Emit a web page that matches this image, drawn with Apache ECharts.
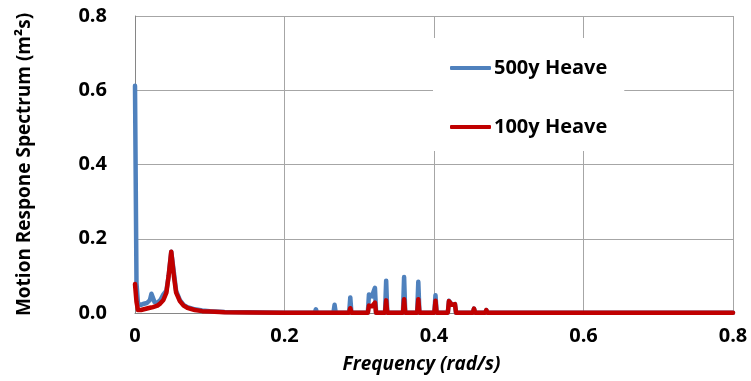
<!DOCTYPE html>
<html>
<head>
<meta charset="utf-8">
<script src="https://cdn.jsdelivr.net/npm/echarts@6/dist/echarts.min.js"></script>
<style>
  html, body { margin: 0; padding: 0; background: #fff; }
  #chart { width: 751px; height: 381px; }
</style>
</head>
<body>
<div id="chart"></div>
<script>
// ======================
// DATA
// ======================

const freq = [
    0, 0.002, 0.004, 0.008, 0.012, 0.016, 0.020, 0.022, 0.024, 0.026, 0.030,
    0.034, 0.038, 0.042, 0.045, 0.0485, 0.052, 0.055, 0.060, 0.065, 0.070,
    0.080, 0.090, 0.100, 0.120, 0.150, 0.200,
    0.2405, 0.242, 0.2435,
    0.2655, 0.267, 0.2685,
    0.2865, 0.288, 0.2895,
    0.3115, 0.313, 0.317, 0.321, 0.3225,
    0.3345, 0.336, 0.3375,
    0.3585, 0.360, 0.3615,
    0.3775, 0.379, 0.3805,
    0.4005, 0.402, 0.4035,
    0.4185, 0.420, 0.424, 0.428, 0.4295,
    0.452, 0.4535, 0.455,
    0.4685, 0.470, 0.4715,
    0.4885, 0.490, 0.4915,
    0.5095, 0.511, 0.5125,
    0.55, 0.65, 0.8
];

const heave500 = [
    0.612, 0.08, 0.025, 0.022, 0.025, 0.027, 0.035, 0.052, 0.052, 0.030, 0.028,
    0.035, 0.050, 0.060, 0.100, 0.165, 0.110, 0.060, 0.035, 0.022, 0.016,
    0.010, 0.007, 0.005, 0.003, 0.002, 0.001,
    0.001, 0.010, 0.001,
    0.001, 0.022, 0.001,
    0.001, 0.042, 0.001,
    0.001, 0.050, 0.045, 0.068, 0.001,
    0.001, 0.087, 0.001,
    0.001, 0.097, 0.001,
    0.001, 0.084, 0.001,
    0.001, 0.048, 0.001,
    0.001, 0.033, 0.022, 0.024, 0.001,
    0.001, 0.012, 0.001,
    0.001, 0.008, 0.001,
    0.001, 0.005, 0.001,
    0.001, 0.003, 0.001,
    0.001, 0.001, 0.001
];

const heave100 = [
    0.078, 0.030, 0.008, 0.008, 0.010, 0.012, 0.014, 0.015, 0.016, 0.017, 0.020,
    0.026, 0.035, 0.055, 0.100, 0.165, 0.100, 0.055, 0.032, 0.020, 0.014,
    0.008, 0.005, 0.004, 0.002, 0.0015, 0.001,
    0.001, 0.002, 0.001,
    0.001, 0.005, 0.001,
    0.001, 0.013, 0.001,
    0.001, 0.020, 0.018, 0.028, 0.001,
    0.001, 0.034, 0.001,
    0.001, 0.037, 0.001,
    0.001, 0.037, 0.001,
    0.001, 0.033, 0.001,
    0.001, 0.032, 0.022, 0.024, 0.001,
    0.001, 0.012, 0.001,
    0.001, 0.008, 0.001,
    0.001, 0.005, 0.001,
    0.001, 0.003, 0.001,
    0.001, 0.001, 0.001
];

const seriesNames = ['500y Heave', '100y Heave'];
const seriesColors = ['#4F81BD', '#C00000'];

// ======================
// CHART
// ======================

const FONT = '"Open Sans", "DejaVu Sans", sans-serif';
const chart = echarts.init(document.getElementById('chart'));

const pairs = values => freq.map((f, i) => [f, values[i]]);

chart.setOption({
    animation: false,
    backgroundColor: '#fff',
    grid: { left: 135, right: 18, top: 16, bottom: 68 },
    legend: {
        left: 433,
        top: 38,
        orient: 'vertical',
        backgroundColor: '#fff',
        padding: [20, 17, 14, 17],
        itemGap: 39,
        icon: 'roundRect',
        itemWidth: 41,
        itemHeight: 4,
        textStyle: { fontFamily: FONT, fontWeight: 'bold', fontSize: 20, color: '#000', padding: [0, 0, 0, -2] },
        data: seriesNames
    },
    xAxis: {
        type: 'value',
        min: 0,
        max: 0.8,
        interval: 0.2,
        name: 'Frequency (rad/s)',
        nameLocation: 'middle',
        nameGap: 42,
        nameTextStyle: {
            fontFamily: FONT, fontWeight: 'bold', fontStyle: 'italic',
            fontSize: 19, color: '#000', padding: [0, 25, 0, 0]
        },
        axisLine: { show: true, lineStyle: { color: '#868686', width: 1 } },
        axisTick: { show: false },
        splitLine: { show: true, lineStyle: { color: '#a6a6a6', width: 1 } },
        axisLabel: {
            margin: 13,
            fontFamily: FONT, fontWeight: 'bold', fontSize: 20, color: '#000',
            formatter: v => (v === 0 ? '0' : v.toFixed(1))
        }
    },
    yAxis: {
        type: 'value',
        min: 0,
        max: 0.8,
        interval: 0.2,
        name: 'Motion Respone Spectrum (m²s)',
        nameLocation: 'middle',
        nameGap: 101,
        nameTextStyle: { fontFamily: FONT, fontWeight: 'bold', fontSize: 19, color: '#000' },
        axisLine: { show: true, lineStyle: { color: '#868686', width: 1 } },
        axisTick: { show: false },
        splitLine: { show: true, lineStyle: { color: '#a6a6a6', width: 1 } },
        axisLabel: {
            margin: 28,
            fontFamily: FONT, fontWeight: 'bold', fontSize: 20, color: '#000',
            formatter: v => v.toFixed(1)
        }
    },
    series: [
        {
            name: seriesNames[0],
            type: 'line',
            data: pairs(heave500),
            showSymbol: false,
            symbol: 'none',
            color: seriesColors[0],
            lineStyle: { width: 4.5, color: seriesColors[0], join: 'round', cap: 'round' }
        },
        {
            name: seriesNames[1],
            type: 'line',
            data: pairs(heave100),
            showSymbol: false,
            symbol: 'none',
            color: seriesColors[1],
            lineStyle: { width: 4.5, color: seriesColors[1], join: 'round', cap: 'round' }
        }
    ]
});
</script>
</body>
</html>
